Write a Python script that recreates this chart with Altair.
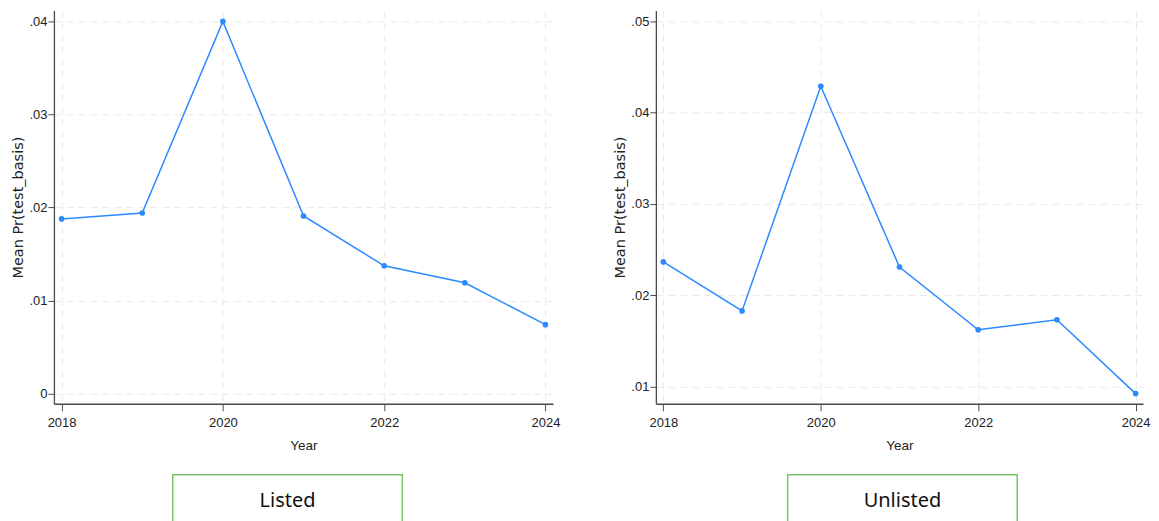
import altair as alt
import pandas as pd

years = [2018, 2019, 2020, 2021, 2022, 2023, 2024]
listed = [0.01877, 0.01941, 0.03997, 0.01909, 0.01374, 0.01192, 0.00742]
unlisted = [0.02366, 0.0183, 0.04287, 0.0231, 0.01624, 0.01733, 0.00925]
x_ticks = [2018, 2020, 2022, 2024]
listed_yticks = [0, 0.01, 0.02, 0.03, 0.04]
unlisted_yticks = [0.01, 0.02, 0.03, 0.04, 0.05]
panel_labels = ["Listed", "Unlisted"]

LINE = "#2b8aff"
FONT = "Liberation Sans"
label_expr = "datum.value == 0 ? '0' : slice(format(datum.value, '.2f'), 1)"


def panel(values, yticks, ydomain, width, box_x, box_x2, label):
    df = pd.DataFrame({"Year": years, "value": values})
    x = alt.X("Year:Q", title="Year",
              scale=alt.Scale(domain=[2017.905, 2024.094], nice=False, zero=False),
              axis=alt.Axis(values=x_ticks, format="d", tickSize=7, labelPadding=6,
                            titlePadding=9, labelFont=FONT, titleFont=FONT,
                            labelFontSize=13, titleFontSize=13.5, titleFontWeight="normal",
                            labelColor="#222", titleColor="#222",
                            domainColor="#4a4a4a", tickColor="#4a4a4a", domainWidth=1.3,
                            grid=True, gridColor="#e9e9e9", gridDash=[7, 5], gridWidth=1))
    y = alt.Y("value:Q", title="Mean Pr(test_basis)",
              scale=alt.Scale(domain=ydomain, nice=False, zero=False),
              axis=alt.Axis(values=yticks, labelExpr=label_expr, tickSize=6, labelPadding=1,
                            titlePadding=3, labelFont=FONT, labelFontSize=13,
                            titleFont="DejaVu Sans", titleFontSize=14.5,
                            titleFontWeight="normal", labelColor="#222", titleColor="#222",
                            domainColor="#4a4a4a", tickColor="#4a4a4a", domainWidth=1.3,
                            grid=True, gridColor="#e9e9e9", gridDash=[7, 5], gridWidth=1))
    base = alt.Chart(df)
    line = base.mark_line(color=LINE, strokeWidth=1.5).encode(x=x, y=y)
    pts = base.mark_point(color=LINE, filled=True, size=32, opacity=1).encode(x="Year:Q", y="value:Q")
    box = alt.Chart(pd.DataFrame({"label": [label]})).mark_rect(
        fill="white", stroke="#7cc46a", strokeWidth=1.5
    ).encode(x=alt.value(box_x), x2=alt.value(box_x2), y=alt.value(465), y2=alt.value(520))
    txt = alt.Chart(pd.DataFrame({"label": [label]})).mark_text(
        font="Noto Sans", fontSize=20, color="#111", baseline="middle", align="center"
    ).encode(text="label:N", x=alt.value((box_x + box_x2) / 2), y=alt.value(491))
    return alt.layer(line, pts, box, txt).properties(width=width, height=394)


left = panel(listed, listed_yticks, [-0.00107, 0.04115], 500, 119, 349, panel_labels[0])
right = panel(unlisted, unlisted_yticks, [0.00814, 0.05117], 488, 132, 362, panel_labels[1])

chart = alt.hconcat(left, right, spacing=52).properties(
    padding={"left": 2, "top": 2, "right": 0, "bottom": 0}
).configure_view(stroke=None)

chart.save("out.html", embed_options={"renderer": "svg", "actions": False})
